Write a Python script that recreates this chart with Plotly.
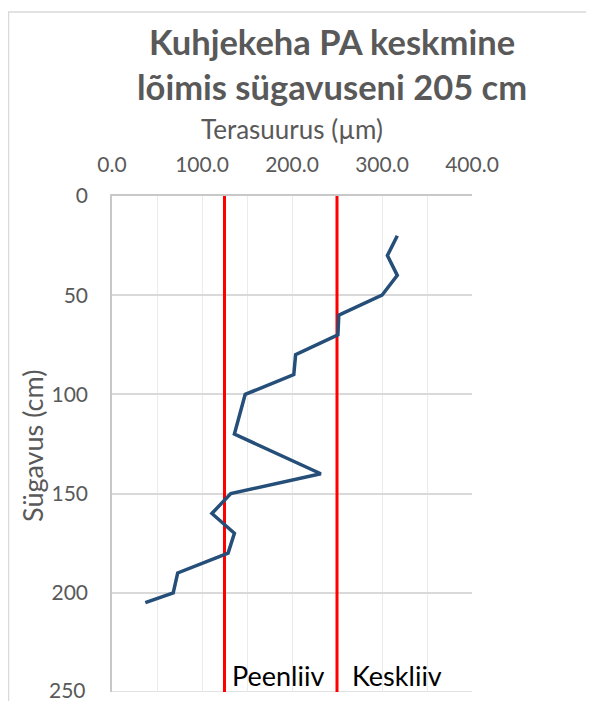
import plotly.graph_objects as go

# Data
depth_cm = [20, 30, 40, 50, 60, 70, 80, 90, 100, 120, 140, 150, 160, 170, 180, 190, 200, 205]
grain_um = [317, 306, 317, 300, 252, 251, 204, 202, 148, 136, 232, 132, 111, 136, 129, 73, 68, 37]
boundary_um = [125, 250]
boundary_names = ["Peenliiv", "Keskliiv"]
x_ticks = [0, 100, 200, 300, 400]
y_ticks = [0, 50, 100, 150, 200, 250]

OFF = 8  # default page body margin
W, H = 594 - 2 * OFF, 709 - 2 * OFF
# plot area in page pixels: x 112..472, y 196..692
PL, PR, PT, PB = 112, 472, 196, 692
L, T = PL - OFF, PT - OFF
R = W - (PR - OFF)
B = H - (PB - OFF)
pw, ph = PR - PL, PB - PT

def px_x(p):
    return (p - PL) / pw

def px_y(p):
    return (PB - p) / ph

TXT = "#595959"
FONT = "Lato"
TICK_SIZE = 21

fig = go.Figure()

for bx in boundary_um:
    fig.add_trace(go.Scatter(x=[bx, bx], y=[y_ticks[0], y_ticks[-1]], mode="lines",
                             line=dict(color="#FF0000", width=3), showlegend=False,
                             hoverinfo="skip"))

fig.add_trace(go.Scatter(x=grain_um, y=depth_cm, mode="lines",
                         line=dict(color="#254E78", width=3.5), showlegend=False))

fig.update_layout(
    width=W, height=H,
    margin=dict(l=L, r=R, t=T, b=B),
    paper_bgcolor="white", plot_bgcolor="white",
    font=dict(family=FONT, color=TXT),
    xaxis=dict(side="top", range=[0, 400], tickvals=x_ticks, tickformat=".1f",
               showgrid=True, gridcolor="#ebebeb", gridwidth=1,
               minor=dict(dtick=50, showgrid=True, gridcolor="#ebebeb", gridwidth=1),
               showline=True, linecolor="#c8c8c8", linewidth=1.5,
               ticks="", ticklabelstandoff=14, tickfont=dict(size=TICK_SIZE, color=TXT),
               zeroline=False, fixedrange=True),
    yaxis=dict(range=[250, 0], tickvals=y_ticks, showgrid=True, gridcolor="#d9d9d9",
               gridwidth=1.5, showline=True, linecolor="#c8c8c8", linewidth=1.5,
               ticks="", ticklabelstandoff=18, tickfont=dict(size=TICK_SIZE, color=TXT),
               zeroline=False, fixedrange=True),
)

# Bottom gridline / label at the end of the depth range (Plotly drops it at the edge)
fig.add_shape(type="line", xref="paper", yref="y", x0=0, x1=1,
              y0=y_ticks[-1], y1=y_ticks[-1], line=dict(color="#d9d9d9", width=1.5),
              layer="between")
fig.add_annotation(text=str(y_ticks[-1]), xref="paper", yref="y",
                   x=px_x(88), y=y_ticks[-1], xanchor="right", yanchor="middle",
                   yshift=3, showarrow=False,
                   font=dict(size=TICK_SIZE, color=TXT, family=FONT))

# Title lines
fig.add_annotation(text="<b>Kuhjekeha PA keskmine</b>", xref="paper", yref="paper",
                   x=px_x(332), y=px_y(41), xanchor="center", yanchor="middle",
                   showarrow=False, font=dict(size=34.5, color=TXT, family=FONT))
fig.add_annotation(text="<b>lõimis sügavuseni 205 cm</b>", xref="paper", yref="paper",
                   x=px_x(332), y=px_y(86), xanchor="center", yanchor="middle",
                   showarrow=False, font=dict(size=34.5, color=TXT, family=FONT))

# Axis titles
fig.add_annotation(text="Terasuurus (µm)", xref="paper", yref="paper",
                   x=px_x(292), y=px_y(129), xanchor="center", yanchor="middle",
                   showarrow=False, font=dict(size=26, color=TXT, family=FONT))
fig.add_annotation(text="Sügavus (cm)", xref="paper", yref="paper",
                   x=px_x(32), y=px_y(446), xanchor="center", yanchor="middle",
                   textangle=-90, showarrow=False, font=dict(size=27, color=TXT, family=FONT))

# Zone labels
for nm, lx in zip(boundary_names, [px_x(230), px_x(350)]):
    fig.add_annotation(text=nm, xref="paper", yref="paper", x=lx, y=px_y(675),
                       xanchor="left", yanchor="middle", showarrow=False,
                       font=dict(size=27, color="#000000", family=FONT))

# Chart border
fig.add_shape(type="rect", xref="paper", yref="paper",
              x0=px_x(OFF + 0.5), x1=px_x(900), y0=px_y(1000), y1=px_y(12),
              line=dict(color="#d9d9d9", width=1.5), layer="below")

fig.write_html("out.html")
